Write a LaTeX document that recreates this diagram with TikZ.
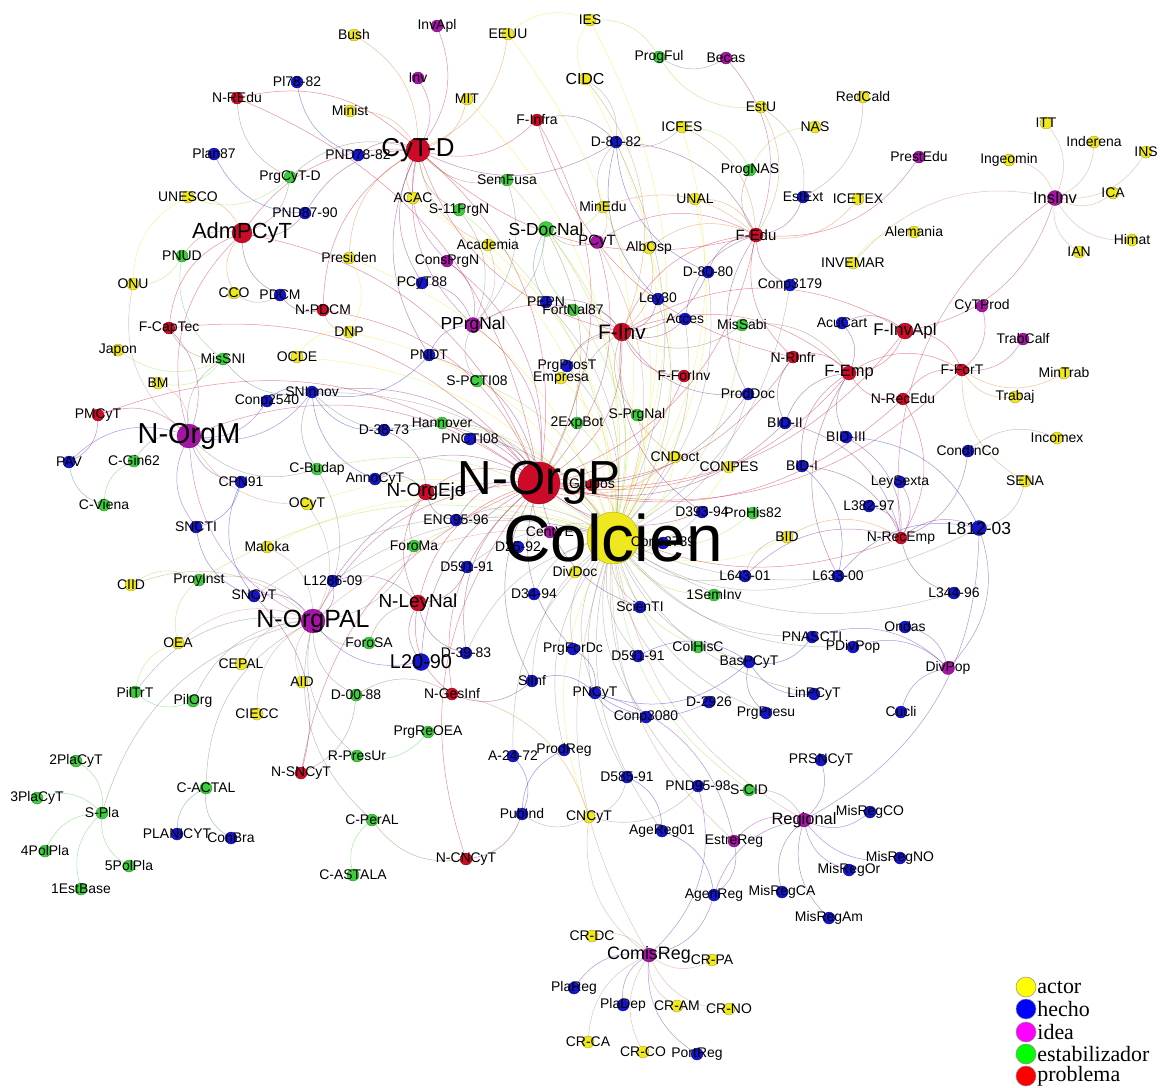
\documentclass[tikz,border=0pt]{standalone}
\usepackage{fontspec}
\setmainfont{Liberation Sans}
\newfontfamily\legfont{Liberation Serif}
\pgfdeclarelayer{bglayer}
\pgfdeclarelayer{edgelayer}
\pgfdeclarelayer{labellayer}
\pgfsetlayers{bglayer,edgelayer,main,labellayer}
\definecolor{cy}{RGB}{240,232,30}
\definecolor{cb}{RGB}{20,20,205}
\definecolor{cp}{RGB}{165,20,165}
\definecolor{cg}{RGB}{60,205,60}
\definecolor{cr}{RGB}{205,10,40}
\tikzset{vtx/.style={circle,inner sep=0pt,line width=0.3pt},
  lbl/.style={inner sep=0pt,text=black},
  edg/.style={line width=0.5pt,opacity=0.45},
  legdot/.style={circle,inner sep=0pt,minimum size=20bp,draw=black!45,line width=0.5pt}}
\newcommand\nd[7]{%
  \expandafter\xdef\csname ty@#1\endcsname{#5}%
  \node[vtx,fill=#5,draw=#5!65!black,minimum size=#6bp] (#1) at (#3,#4) {};
  \begin{pgfonlayer}{labellayer}
  \node[lbl,font=\fontsize{#7}{#7}\selectfont] (#1-l) at (#3,#4) {#2};
  \end{pgfonlayer}}
\newcommand\edgs[2]{%
  \foreach \a/\b in {#2}{%
    \edef\ecol{\csname ty@\a\endcsname!50!\csname ty@\b\endcsname}%
    \draw[edg,draw=\ecol] (\a) to[bend right=#1] (\b);}}
\begin{document}
\begin{tikzpicture}[x=1bp,y=-1bp]
\useasboundingbox (0,0) rectangle (1162,1088);
\begin{pgfonlayer}{bglayer}
\fill[white] (0,0) rectangle (1162,1088);
\end{pgfonlayer}
% ---------- nodes: left
\nd{Pl78-82}{Pl78-82}{297}{82}{cb}{12}{14}
\nd{N-REdu}{N-REdu}{237}{98}{cr}{12}{14}
\nd{Plan87}{Plan87}{214}{154}{cb}{12}{14}
\nd{PrgCyT-D}{PrgCyT-D}{290}{177}{cg}{12}{14}
\nd{UNESCO}{UNESCO}{188}{197}{cy}{12}{14}
\nd{AdmPCyT}{AdmPCyT}{242}{233}{cr}{20}{22}
\nd{PNUD}{PNUD}{182}{256}{cg}{12}{14}
\nd{ONU}{ONU}{133}{284}{cy}{12}{14}
\nd{CCO}{CCO}{234}{293}{cy}{12}{14}
\nd{PDCM}{PDCM}{280}{295}{cb}{12}{14}
\nd{F-CapTec}{F-CapTec}{169}{328}{cr}{12}{14}
\nd{Japon}{Japon}{118}{350}{cy}{12}{14}
\nd{MisSNI}{MisSNI}{223}{359}{cg}{12}{14}
\nd{BM}{BM}{158}{383}{cy}{12}{14}
\nd{PMCyT}{PMCyT}{98}{415}{cr}{12}{14}
\nd{N-OrgM}{N-OrgM}{189}{436}{cp}{24}{29}
\nd{PAV}{PAV}{69}{462}{cb}{12}{14}
\nd{C-Gin62}{C-Gin62}{134}{461}{cg}{12}{14}
\nd{C-Viena}{C-Viena}{104}{505}{cg}{12}{14}
\nd{Conp2540}{Conp2540}{267}{401}{cb}{12}{14}
\nd{CPN91}{CPN91}{241}{482}{cb}{12}{14}
\nd{SNCTI}{SNCTI}{196}{527}{cb}{12}{14}
\nd{Maloka}{Maloka}{267}{547}{cy}{12}{14}
\nd{CIID}{CIID}{131}{585}{cy}{12}{14}
\nd{ProyInst}{ProyInst}{199}{580}{cg}{12}{14}
\nd{SNCyT}{SNCyT}{254}{596}{cb}{12}{14}
\nd{N-OrgPAL}{N-OrgPAL}{313}{621}{cp}{24}{25}
\nd{OEA}{OEA}{178}{643}{cy}{12}{14}
\nd{CEPAL}{CEPAL}{241}{664}{cy}{12}{14}
\nd{PilTrT}{PilTrT}{135}{692}{cg}{12}{14}
\nd{PilOrg}{PilOrg}{193}{701}{cg}{12}{14}
\nd{CIECC}{CIECC}{257}{714}{cy}{12}{14}
\nd{AID}{AID}{302}{682}{cy}{12}{14}
\nd{D-00-88}{D-00-88}{356}{695}{cg}{12}{14}
% ---------- top centre
\nd{Bush}{Bush}{354}{35}{cy}{12}{14}
\nd{InvApl}{InvApl}{437}{26}{cp}{12}{14}
\nd{EEUU}{EEUU}{508}{34}{cy}{12}{14}
\nd{IES}{IES}{590}{20}{cy}{12}{14}
\nd{Inv}{Inv}{418}{78}{cp}{12}{14}
\nd{MIT}{MIT}{467}{99}{cy}{12}{14}
\nd{Minist}{Minist}{350}{111}{cy}{12}{14}
\nd{F-Infra}{F-Infra}{537}{120}{cr}{12}{14}
\nd{CIDC}{CIDC}{585}{79}{cy}{12}{16}
\nd{CyT-D}{CyT-D}{418}{150}{cr}{24}{26}
\nd{PND78-82}{PND78-82}{358}{155}{cb}{12}{14}
\nd{SemFusa}{SemFusa}{507}{180}{cg}{12}{14}
\nd{ACAC}{ACAC}{413}{198}{cy}{12}{14}
\nd{S-11PrgN}{S-11PrgN}{459}{210}{cg}{12}{14}
\nd{PND87-90}{PND87-90}{305}{213}{cb}{12}{14}
\nd{S-DocNal}{S-DocNal}{546}{229}{cg}{15}{17.5}
\nd{Academia}{Academia}{488}{245}{cy}{12}{14}
\nd{Presiden}{Presiden}{349}{258}{cy}{12}{14}
\nd{ConsPrgN}{ConsPrgN}{447}{261}{cp}{12}{14}
\nd{PCyT88}{PCyT88}{422}{283}{cb}{12}{14}
\nd{N-PDCM}{N-PDCM}{323}{310}{cr}{12}{14}
\nd{PEPN}{PEPN}{546}{302}{cb}{12}{14}
\nd{FortNal87}{FortNal87}{573}{310}{cg}{12}{14}
\nd{PPrgNal}{PPrgNal}{473}{325}{cp}{15}{17.5}
\nd{DNP}{DNP}{349}{332}{cy}{12}{14}
\nd{OCDE}{OCDE}{297}{357}{cy}{12}{14}
\nd{PNDT}{PNDT}{429}{355}{cb}{12}{14}
% ---------- top right
\nd{ProgFul}{ProgFul}{659}{57}{cg}{12}{14}
\nd{Becas}{Becas}{726}{58}{cp}{12}{14}
\nd{RedCald}{RedCald}{863}{97}{cy}{12}{14}
\nd{EstU}{EstU}{761}{107}{cy}{12}{14}
\nd{NAS}{NAS}{815}{127}{cy}{12}{14}
\nd{ICFES}{ICFES}{682}{127}{cy}{12}{14}
\nd{D-81-82}{D-81-82}{616}{142}{cb}{12}{14}
\nd{ProgNAS}{ProgNAS}{750}{170}{cg}{12}{14}
\nd{EstExt}{EstExt}{803}{197}{cb}{12}{14}
\nd{ICETEX}{ICETEX}{858}{199}{cy}{12}{14}
\nd{MinEdu}{MinEdu}{603}{207}{cy}{12}{14}
\nd{UNAL}{UNAL}{695}{199}{cy}{12}{14}
\nd{F-Edu}{F-Edu}{756}{235}{cr}{14}{15}
\nd{PCyT}{PCyT}{597}{242}{cp}{13}{15}
\nd{AlbOsp}{AlbOsp}{649}{248}{cy}{12}{14}
\nd{INVEMAR}{INVEMAR}{853}{263}{cy}{12}{14}
\nd{D-80-80}{D-80-80}{708}{272}{cb}{12}{14}
\nd{Conp3179}{Conp3179}{790}{285}{cb}{12}{14}
\nd{Ley30}{Ley30}{658}{299}{cb}{12}{14}
\nd{Acces}{Acces}{685}{319}{cb}{12}{14}
\nd{MisSabi}{MisSabi}{742}{325}{cg}{12}{14}
\nd{AcuCart}{AcuCart}{842}{323}{cb}{12}{14}
\nd{F-Inv}{F-Inv}{622}{332}{cr}{18}{21}
\nd{N-RInfr}{N-RInfr}{793}{357}{cr}{12}{14}
% ---------- right
\nd{ITT}{ITT}{1046}{123}{cy}{12}{14}
\nd{Inderena}{Inderena}{1094}{142}{cy}{12}{14}
\nd{INS}{INS}{1146}{152}{cy}{12}{14}
\nd{PrestEdu}{PrestEdu}{919}{157}{cp}{12}{14}
\nd{Ingeomin}{Ingeomin}{1009}{160}{cy}{12}{14}
\nd{InsInv}{InsInv}{1055}{198}{cp}{15}{16.5}
\nd{ICA}{ICA}{1113}{193}{cy}{12}{14}
\nd{Alemania}{Alemania}{914}{232}{cy}{12}{14}
\nd{Himat}{Himat}{1132}{240}{cy}{12}{14}
\nd{IAN}{IAN}{1079}{252}{cy}{12}{14}
\nd{CyTProd}{CyTProd}{982}{306}{cp}{12}{14}
\nd{F-InvApl}{F-InvApl}{905}{331}{cr}{16}{17}
\nd{TrabCalf}{TrabCalf}{1023}{339}{cp}{12}{14}
\nd{F-ForT}{F-ForT}{962}{370}{cr}{12}{14}
\nd{MinTrab}{MinTrab}{1064}{373}{cy}{12}{14}
\nd{F-Emp}{F-Emp}{849}{373}{cr}{14}{16.5}
\nd{N-RecEdu}{N-RecEdu}{903}{399}{cr}{12}{14}
\nd{Trabaj}{Trabaj}{1015}{397}{cy}{12}{14}
\nd{Incomex}{Incomex}{1057}{438}{cy}{12}{14}
\nd{CondInCo}{CondInCo}{968}{451}{cb}{12}{14}
\nd{LeySexta}{LeySexta}{900}{482}{cb}{12}{14}
\nd{SENA}{SENA}{1025}{481}{cy}{12}{14}
\nd{L382-97}{L382-97}{869}{506}{cb}{12}{14}
\nd{L812-03}{L812-03}{979}{528}{cb}{15}{17.5}
\nd{N-RecEmp}{N-RecEmp}{901}{538}{cr}{12}{14}
\nd{L344-96}{L344-96}{954}{593}{cb}{12}{14}
\nd{Ondas}{Ondas}{905}{627}{cb}{12}{14}
\nd{DivPop}{DivPop}{948}{668}{cp}{13}{14}
\nd{Cucli}{Cucli}{901}{712}{cb}{12}{14}
% ---------- centre
\nd{SNInnov}{SNInnov}{312}{392}{cb}{12}{14}
\nd{S-PCTI08}{S-PCTI08}{477}{381}{cg}{12}{14}
\nd{PrgProsT}{PrgProsT}{567}{366}{cb}{12}{14}
\nd{Empresa}{Empresa}{561}{378}{cy}{12}{14}
\nd{D-38-73}{D-38-73}{384}{430}{cb}{12}{14}
\nd{Hannover}{Hannover}{442}{423}{cg}{12}{14}
\nd{PNCTI08}{PNCTI08}{470}{439}{cb}{12}{14}
\nd{2ExpBot}{2ExpBot}{577}{423}{cg}{12}{14}
\nd{C-Budap}{C-Budap}{317}{469}{cg}{12}{14}
\nd{AnnoCyT}{AnnoCyT}{375}{479}{cb}{12}{14}
\nd{N-OrgEje}{N-OrgEje}{426}{492}{cr}{16}{19}
\nd{OCyT}{OCyT}{307}{504}{cy}{12}{14}
\nd{ENC95-96}{ENC95-96}{456}{520}{cb}{12}{14}
\nd{CentVE}{CentVE}{550}{532}{cp}{12}{14}
\nd{ForoMa}{ForoMa}{414}{546}{cg}{12}{14}
\nd{D25-92}{D25-92}{518}{547}{cb}{12}{14}
\nd{D591-91}{D591-91}{467}{567}{cb}{12}{14}
\nd{L1286-09}{L1286-09}{333}{581}{cb}{12}{14}
\nd{DivDoc}{DivDoc}{575}{572}{cy}{12}{14}
\nd{D34-94}{D34-94}{534}{594}{cb}{12}{14}
\nd{N-LeyNal}{N-LeyNal}{418}{603}{cr}{16}{19}
\nd{ForoSA}{ForoSA}{369}{643}{cg}{12}{14}
\nd{D-39-83}{D-39-83}{466}{653}{cb}{12}{14}
\nd{L20-90}{L20-90}{421}{662}{cb}{17}{20}
\nd{PrgForDc}{PrgForDc}{573}{649}{cb}{12}{14}
\nd{SInf}{SiInf}{532}{681}{cb}{12}{14}
\nd{N-GesInf}{N-GesInf}{452}{694}{cr}{12}{14}
\nd{F-ForInv}{F-ForInv}{684}{376}{cr}{12}{14}
\nd{ProdDoc}{ProdDoc}{748}{394}{cb}{12}{14}
\nd{S-PrgNal}{S-PrgNal}{637}{415}{cg}{12}{14}
\nd{BID-II}{BID-II}{785}{423}{cb}{12}{14}
\nd{BID-III}{BID-III}{846}{437}{cb}{12}{14}
\nd{CNDoct}{CNDoct}{675}{457}{cy}{12}{14}
\nd{CONPES}{CONPES}{729}{467}{cy}{12}{14}
\nd{BID-I}{BID-I}{802}{466}{cb}{12}{14}
\nd{Grupos}{Grupos}{592}{485}{cr}{12}{14}
\nd{D393-94}{D393-94}{702}{512}{cb}{12}{14}
\nd{ProHis82}{ProHis82}{753}{513}{cg}{12}{14}
\nd{Conp2739}{Conp2739}{663}{543}{cb}{12}{14}
\nd{BID}{BID}{787}{537}{cy}{12}{14}
\nd{L643-01}{L643-01}{745}{576}{cb}{12}{14}
\nd{L633-00}{L633-00}{838}{576}{cb}{12}{14}
\nd{1SemInv}{1SemInv}{714}{595}{cg}{12}{14}
\nd{ScienTI}{ScienTI}{640}{607}{cb}{12}{14}
\nd{PNASCTI}{PNASCTI}{812}{637}{cb}{12}{14}
\nd{PDivPop}{PDivPop}{853}{647}{cb}{12}{14}
\nd{ColHisC}{ColHisC}{698}{647}{cg}{12}{14}
\nd{D591-91b}{D591-91}{638}{656}{cb}{12}{14}
\nd{BasPCyT}{BasPCyT}{749}{662}{cb}{12}{14}
\nd{PNCyT}{PNCyT}{595}{693}{cb}{12}{14}
\nd{LinPCyT}{LinPCyT}{814}{694}{cb}{12}{14}
\nd{D-2926}{D-2926}{709}{702}{cb}{12}{14}
\nd{PrgPresu}{PrgPresu}{766}{713}{cb}{12}{14}
\nd{Conp3080}{Conp3080}{646}{717}{cb}{12}{14}
% ---------- bottom
\nd{2PlaCyT}{2PlaCyT}{76}{761}{cg}{12}{14}
\nd{3PlaCyT}{3PlaCyT}{37}{798}{cg}{12}{14}
\nd{S-Pla}{S-Pla}{102}{813}{cg}{12}{14}
\nd{C-ACTAL}{C-ACTAL}{206}{788}{cg}{12}{14}
\nd{PLANICYT}{PLANICYT}{177}{834}{cb}{12}{14}
\nd{ConBra}{ConBra}{231}{838}{cb}{12}{14}
\nd{4PolPla}{4PolPla}{45}{851}{cg}{12}{14}
\nd{5PolPla}{5PolPla}{129}{866}{cg}{12}{14}
\nd{1EstBase}{1EstBase}{81}{889}{cg}{12}{14}
\nd{N-SNCyT}{N-SNCyT}{301}{773}{cr}{12}{14}
\nd{R-PresUr}{R-PresUr}{357}{756}{cg}{12}{14}
\nd{PrgReOEA}{PrgReOEA}{428}{732}{cg}{12}{14}
\nd{A-24-72}{A-24-72}{513}{756}{cb}{12}{14}
\nd{ProdReg}{ProdReg}{564}{750}{cb}{12}{14}
\nd{PubInd}{PubInd}{522}{814}{cb}{12}{14}
\nd{CNCyT}{CNCyT}{589}{817}{cy}{12}{14}
\nd{C-PerAL}{C-PerAL}{372}{820}{cg}{12}{14}
\nd{N-CNCyT}{N-CNCyT}{466}{859}{cr}{12}{14}
\nd{C-ASTALA}{C-ASTALA}{353}{875}{cg}{12}{14}
\nd{PRSNCyT}{PRSNCyT}{821}{760}{cb}{12}{14}
\nd{D585-91}{D585-91}{627}{777}{cb}{12}{14}
\nd{PND95-98}{PND95-98}{698}{786}{cb}{12}{14}
\nd{S-CID}{S-CID}{749}{790}{cg}{12}{14}
\nd{Regional}{Regional}{804}{820}{cp}{14}{16.5}
\nd{MisRegCO}{MisRegCO}{870}{812}{cb}{12}{14}
\nd{AgeReg01}{AgeReg01}{662}{831}{cb}{12}{14}
\nd{EstreReg}{EstreReg}{734}{841}{cp}{12}{14}
\nd{MisRegOr}{MisRegOr}{849}{870}{cb}{12}{14}
\nd{MisRegNO}{MisRegNO}{900}{858}{cb}{12}{14}
\nd{AgenReg}{AgenReg}{714}{895}{cb}{12}{14}
\nd{MisRegCA}{MisRegCA}{782}{892}{cb}{12}{14}
\nd{MisRegAm}{MisRegAm}{829}{918}{cb}{12}{14}
\nd{CR-DC}{CR-DC}{592}{936}{cy}{12}{14}
\nd{ComisReg}{ComisReg}{649}{955}{cp}{14}{18}
\nd{CR-PA}{CR-PA}{712}{960}{cy}{12}{14}
\nd{PlaReg}{PlaReg}{574}{988}{cb}{12}{14}
\nd{PlaDep}{PlaDep}{623}{1005}{cb}{12}{14}
\nd{CR-AM}{CR-AM}{677}{1006}{cy}{12}{14}
\nd{CR-NO}{CR-NO}{729}{1009}{cy}{12}{14}
\nd{CR-CA}{CR-CA}{588}{1042}{cy}{12}{14}
\nd{CR-CO}{CR-CO}{643}{1052}{cy}{12}{14}
\nd{PortReg}{PortReg}{697}{1054}{cb}{12}{14}
% ---------- hubs
\nd{N-OrgP}{N-OrgP}{539}{483}{cr}{42}{48}
\nd{Colcien}{Colcien}{613}{538}{cy}{52}{66}
% ---------- edges
\begin{pgfonlayer}{edgelayer}
\edgs{24}{Colcien/CIDC, Colcien/IES, Colcien/EEUU, Colcien/MIT, Colcien/ACAC, Colcien/S-11PrgN, Colcien/SemFusa, Colcien/Academia, Colcien/S-DocNal, Colcien/MinEdu, Colcien/UNAL, Colcien/ICFES, Colcien/PCyT, Colcien/AlbOsp, Colcien/Presiden, Colcien/DNP, Colcien/OCDE, Colcien/PEPN, Colcien/FortNal87, Colcien/PrgProsT, Colcien/Empresa, Colcien/S-PCTI08, Colcien/Hannover, Colcien/PNCTI08, Colcien/2ExpBot, Colcien/S-PrgNal, Colcien/CNDoct, Colcien/CONPES, Colcien/D393-94, Colcien/ProHis82, Colcien/BID, Colcien/Conp2739, Colcien/CentVE, Colcien/DivDoc, Colcien/D25-92, Colcien/D34-94, Colcien/D591-91, Colcien/ENC95-96, Colcien/ForoMa, Colcien/OCyT, Colcien/Maloka, Colcien/C-Budap, Colcien/SNInnov, Colcien/L643-01, Colcien/1SemInv, Colcien/ScienTI, Colcien/ColHisC, Colcien/D591-91b, Colcien/PrgForDc, Colcien/SInf, Colcien/PNCyT, Colcien/Conp3080, Colcien/D-2926, Colcien/PrgPresu, Colcien/BasPCyT, Colcien/LinPCyT, Colcien/PNASCTI, Colcien/L633-00, Colcien/L812-03, Colcien/CNCyT, Colcien/Regional, Colcien/ComisReg, Colcien/EstreReg, Colcien/S-CID, Colcien/PND95-98, Colcien/D585-91, Colcien/ProdReg, Colcien/A-24-72, Colcien/D-39-83, Colcien/L1286-09, Colcien/SNCyT, Colcien/ProyInst, Colcien/Grupos, Colcien/N-OrgP, Colcien/AgeReg01, Colcien/ProdDoc, Colcien/Ley30, Colcien/Acces, Colcien/MisSabi, Colcien/Conp3179, Colcien/D-80-80, Colcien/D-81-82, Colcien/N-OrgPAL, Colcien/PDivPop, Colcien/L344-96}
\edgs{28}{N-OrgP/Grupos, N-OrgP/N-OrgEje, N-OrgP/N-LeyNal, N-OrgP/CyT-D, N-OrgP/AdmPCyT, N-OrgP/F-Inv, N-OrgP/PPrgNal, N-OrgP/N-OrgM, N-OrgP/N-OrgPAL, N-OrgP/N-PDCM, N-OrgP/N-REdu, N-OrgP/N-RInfr, N-OrgP/N-RecEdu, N-OrgP/N-RecEmp, N-OrgP/N-GesInf, N-OrgP/N-SNCyT, N-OrgP/N-CNCyT, N-OrgP/F-Edu, N-OrgP/F-Emp, N-OrgP/F-ForInv, N-OrgP/F-Infra, N-OrgP/F-CapTec, N-OrgP/F-InvApl, N-OrgP/PMCyT, N-OrgP/S-DocNal, N-OrgP/PCyT, N-OrgP/ConsPrgN, N-OrgP/D-38-73, N-OrgP/AnnoCyT, N-OrgP/Hannover, N-OrgP/PNCTI08, N-OrgP/ENC95-96, N-OrgP/L20-90, N-OrgP/D-39-83, N-OrgP/PrgForDc, N-OrgP/ScienTI, N-OrgP/CNDoct, N-OrgP/D393-94, N-OrgP/ProdDoc, N-OrgP/BID-II, N-OrgP/SNInnov, N-OrgP/PNDT, N-OrgP/L1286-09, N-OrgP/F-ForT, N-OrgP/CentVE, N-OrgP/SInf}
\edgs{28}{CyT-D/Bush, CyT-D/InvApl, CyT-D/Inv, CyT-D/Minist, CyT-D/MIT, CyT-D/F-Infra, CyT-D/PND78-82, CyT-D/PrgCyT-D, CyT-D/ACAC, CyT-D/AdmPCyT, CyT-D/Academia, CyT-D/PPrgNal, CyT-D/PND87-90, CyT-D/EEUU, CyT-D/N-REdu, CyT-D/Presiden, CyT-D/S-11PrgN, CyT-D/SemFusa, CyT-D/PCyT88, CyT-D/F-Inv, CyT-D/ConsPrgN, CyT-D/D-81-82, CyT-D/PNDT, CyT-D/N-PDCM, CyT-D/F-Edu}
\edgs{30}{AdmPCyT/UNESCO, AdmPCyT/PNUD, AdmPCyT/N-OrgM, AdmPCyT/PDCM, AdmPCyT/CCO, AdmPCyT/PND87-90, AdmPCyT/PrgCyT-D, AdmPCyT/F-CapTec, UNESCO/ONU, UNESCO/PrgCyT-D, ONU/PNUD, ONU/N-OrgM, PNUD/MisSNI, F-CapTec/MisSNI, Japon/MisSNI, BM/MisSNI, MisSNI/SNInnov, MisSNI/N-OrgM, Plan87/PND87-90, Pl78-82/PND78-82, N-REdu/PrgCyT-D, PDCM/N-PDCM, CCO/PDCM, N-PDCM/DNP, DNP/OCDE, DNP/Presiden}
\edgs{30}{N-OrgM/PMCyT, N-OrgM/PAV, N-OrgM/C-Gin62, N-OrgM/CPN91, N-OrgM/Conp2540, N-OrgM/SNCTI, N-OrgM/BM, N-OrgM/F-CapTec, N-OrgM/N-OrgPAL, N-OrgM/SNInnov, N-OrgM/C-Budap, N-OrgM/OCyT, PAV/PMCyT, PAV/C-Viena, C-Gin62/C-Viena, SNCTI/SNCyT, CPN91/SNCyT, SNCTI/CPN91}
\edgs{30}{N-OrgPAL/ProyInst, N-OrgPAL/OEA, N-OrgPAL/CEPAL, N-OrgPAL/PilOrg, N-OrgPAL/CIECC, N-OrgPAL/AID, N-OrgPAL/D-00-88, N-OrgPAL/ForoSA, N-OrgPAL/L20-90, N-OrgPAL/L1286-09, N-OrgPAL/S-Pla, N-OrgPAL/C-ACTAL, N-OrgPAL/C-PerAL, N-OrgPAL/R-PresUr, N-OrgPAL/SNCyT, N-OrgPAL/PilTrT, N-OrgPAL/Maloka, N-OrgPAL/OCyT, N-OrgPAL/C-Budap, N-OrgPAL/ForoMa, N-OrgPAL/CIID, ProyInst/CIID, ProyInst/OEA, OEA/PilTrT, PilTrT/PilOrg, S-Pla/2PlaCyT, S-Pla/3PlaCyT, S-Pla/4PolPla, S-Pla/5PolPla, S-Pla/1EstBase, C-ACTAL/PLANICYT, C-ACTAL/ConBra, C-PerAL/C-ASTALA, C-PerAL/N-CNCyT, R-PresUr/PrgReOEA, N-SNCyT/D-00-88, N-SNCyT/SNCyT, N-CNCyT/PubInd, PubInd/CNCyT, PubInd/A-24-72, ProdReg/PubInd}
\edgs{30}{CNCyT/ComisReg, CNCyT/PND95-98, CNCyT/D585-91, CNCyT/N-GesInf, ComisReg/CR-DC, ComisReg/CR-PA, ComisReg/PlaReg, ComisReg/PlaDep, ComisReg/CR-AM, ComisReg/CR-NO, ComisReg/CR-CA, ComisReg/CR-CO, ComisReg/PortReg, ComisReg/AgenReg, ComisReg/PND95-98, Regional/PRSNCyT, Regional/S-CID, Regional/MisRegCO, Regional/EstreReg, Regional/MisRegOr, Regional/MisRegNO, Regional/MisRegCA, Regional/MisRegAm, Regional/L812-03, Regional/AgenReg, AgenReg/AgeReg01, AgenReg/EstreReg, EstreReg/PNCyT, PNCyT/Conp3080, PNCyT/D-2926, PNCyT/SInf, PNCyT/PrgForDc, PNCyT/BasPCyT, BasPCyT/PrgPresu, BasPCyT/LinPCyT, BasPCyT/PNASCTI, BasPCyT/D591-91b, AgeReg01/D585-91}
\edgs{30}{DivPop/Ondas, DivPop/PDivPop, DivPop/Cucli, DivPop/L812-03, DivPop/PNASCTI, L812-03/SENA, L812-03/N-RecEmp, L812-03/BID-III, L812-03/L633-00, N-RecEmp/LeySexta, N-RecEmp/L382-97, N-RecEmp/L344-96, N-RecEmp/BID-I, N-RecEmp/BID-II, N-RecEmp/BID-III, N-RecEmp/BID, N-RecEmp/N-RecEdu, N-RecEmp/L643-01, N-RecEmp/CondInCo, F-ForT/TrabCalf, F-ForT/CyTProd, F-ForT/MinTrab, F-ForT/Trabaj, F-ForT/SENA, F-ForT/F-InvApl, F-ForT/F-Emp, F-ForT/N-RecEdu, Incomex/CondInCo, F-Emp/N-RInfr, F-Emp/BID-II, F-Emp/BID-III, F-Emp/AcuCart, F-Emp/F-InvApl, F-Emp/N-RecEdu, F-Emp/MisSabi, F-Emp/F-Inv, F-Emp/BID-I, F-Emp/L633-00, F-InvApl/InsInv, F-InvApl/F-Inv, F-InvApl/AcuCart, InsInv/ITT, InsInv/Inderena, InsInv/INS, InsInv/Ingeomin, InsInv/ICA, InsInv/Himat, InsInv/IAN, InsInv/INVEMAR, InsInv/N-RecEmp, Alemania/INVEMAR, L633-00/BID-I, BID/L643-01, N-RInfr/BID-II}
\edgs{30}{F-Edu/PrestEdu, F-Edu/Becas, F-Edu/EstU, F-Edu/EstExt, F-Edu/UNAL, F-Edu/D-81-82, F-Edu/D-80-80, F-Edu/ICETEX, F-Edu/Conp3179, F-Edu/MinEdu, F-Edu/ICFES, F-Edu/F-Inv, F-Edu/N-RInfr, F-Edu/PCyT, F-Edu/AlbOsp, F-Edu/ProdDoc, F-Edu/Acces, EstExt/RedCald, EstExt/EstU, NAS/ProgNAS, ProgNAS/ICFES, ProgNAS/F-Edu, ProgFul/IES, ProgFul/Becas, ProgFul/EstU, IES/EEUU, IES/CIDC, D-81-82/CIDC, D-81-82/MinEdu, D-81-82/Ley30, D-81-82/ICFES, D-81-82/D-80-80, D-81-82/F-Infra, F-Infra/N-RInfr}
\edgs{30}{F-Inv/Acces, F-Inv/Ley30, F-Inv/MisSabi, F-Inv/F-ForInv, F-Inv/PEPN, F-Inv/FortNal87, F-Inv/PrgProsT, F-Inv/Empresa, F-Inv/S-PrgNal, F-Inv/PPrgNal, F-Inv/D-80-80, F-Inv/AlbOsp, F-Inv/2ExpBot, F-Inv/CNDoct, F-Inv/ProdDoc, F-Inv/D393-94, F-Inv/CIDC, PPrgNal/ConsPrgN, PPrgNal/S-11PrgN, PPrgNal/PCyT88, PPrgNal/PNDT, PPrgNal/S-PCTI08, PPrgNal/Academia, PPrgNal/SemFusa, PPrgNal/S-DocNal, S-DocNal/PEPN, S-DocNal/FortNal87, S-DocNal/MinEdu, S-DocNal/PCyT, PCyT/MinEdu}
\edgs{30}{SNInnov/Conp2540, SNInnov/PNDT, SNInnov/D-38-73, SNInnov/C-Budap, SNInnov/AnnoCyT, SNInnov/Hannover, N-OrgEje/ENC95-96, N-OrgEje/AnnoCyT, N-OrgEje/D-38-73, N-OrgEje/ForoMa, N-OrgEje/N-LeyNal, N-LeyNal/L20-90, N-LeyNal/D-39-83, N-LeyNal/N-GesInf, N-LeyNal/D591-91, N-LeyNal/ForoSA, N-LeyNal/L1286-09, N-GesInf/SInf, N-GesInf/D-00-88}
\end{pgfonlayer}
% ---------- legend
\node[legdot,fill={rgb,255:red,255;green,255;blue,0}] (lg1) at (1026,987) {};
\node[legdot,fill={rgb,255:red,0;green,0;blue,255}] (lg2) at (1026,1009) {};
\node[legdot,fill={rgb,255:red,255;green,0;blue,255}] (lg3) at (1026,1032) {};
\node[legdot,fill={rgb,255:red,0;green,255;blue,0}] (lg4) at (1026,1054) {};
\node[legdot,fill={rgb,255:red,255;green,0;blue,0}] (lg5) at (1026,1076) {};
\foreach \i/\t in {1/actor,2/hecho,3/idea,4/estabilizador,5/problema}
  \node[anchor=west,inner sep=0pt,font=\legfont\fontsize{22}{22}\selectfont] (lt\i) at ([xshift=1bp]lg\i.east) {\t};
\end{tikzpicture}
\end{document}
